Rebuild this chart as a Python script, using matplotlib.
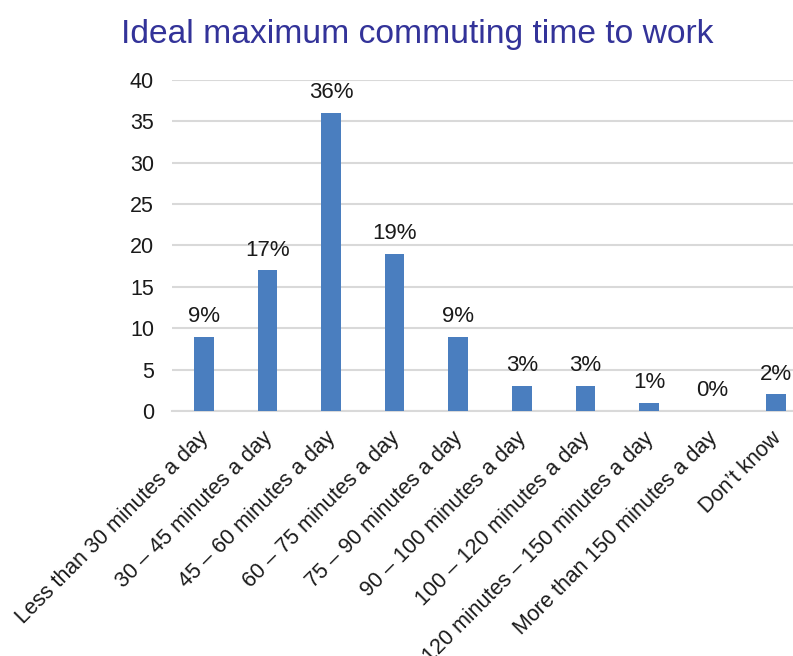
import matplotlib.pyplot as plt
import matplotlib.transforms as mtransforms

categories = [
    "Less than 30 minutes a day",
    "30 – 45 minutes a day",
    "45 – 60 minutes a day",
    "60 – 75 minutes a day",
    "75 – 90 minutes a day",
    "90 – 100 minutes a day",
    "100 – 120 minutes a day",
    "120 minutes – 150 minutes a day",
    "More than 150 minutes a day",
    "Don’t know",
]
shares = [9, 17, 36, 19, 9, 3, 3, 1, 0, 2]
y_ticks = [0, 5, 10, 15, 20, 25, 30, 35, 40]

plt.rcParams['font.family'] = ['Liberation Sans', 'DejaVu Sans']

fig = plt.figure(figsize=(7.93, 6.56), dpi=100)
# plot area runs past the right edge, like the source slide
ax = fig.add_axes([0.2169, 0.3735, 0.802, 0.5046])

x = range(len(categories))
ax.bar(x, shares, width=0.31, color='#4A7EBF', zorder=3)

for xi, v in zip(x, shares):
    ax.annotate(f"{v}%", (xi, v), xytext=(0, 7), textcoords='offset points',
                ha='center', va='bottom', fontsize=16, color='#1a1a1a')

ax.set_xlim(-0.5, len(categories) - 0.5)
ax.set_ylim(0, 40)
ax.set_yticks(y_ticks)
ax.yaxis.grid(True, color='#D9D9D9', linewidth=1.5, zorder=0)
ax.tick_params(axis='both', length=0, labelsize=15.5, colors='#1a1a1a')
ax.tick_params(axis='y', pad=13)
for s in ['top', 'right', 'left']:
    ax.spines[s].set_visible(False)
ax.spines['bottom'].set_color('#D9D9D9')
ax.spines['bottom'].set_linewidth(1.5)

ax.set_xticks(list(x))
ax.set_xticklabels(categories, rotation=45, ha='right', rotation_mode='anchor')
ax.tick_params(axis='x', pad=10)
# nudge the slanted labels a little left/down
shift = mtransforms.ScaledTranslation(-6 / 100, -3 / 100, fig.dpi_scale_trans)
for lbl in ax.get_xticklabels():
    lbl.set_transform(lbl.get_transform() + shift)

fig.text(0.526, 0.947, "Ideal maximum commuting time to work", ha='center', va='center',
         fontsize=24.2, color='#333399')

fig.savefig('out.png', dpi=100)
